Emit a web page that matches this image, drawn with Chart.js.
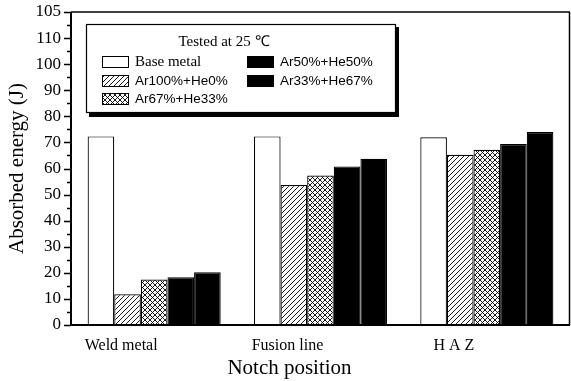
<!DOCTYPE html>
<html>
<head>
<meta charset="utf-8">
<script src="https://cdn.jsdelivr.net/npm/chart.js@4.4.3/dist/chart.umd.min.js"></script>
<style>
  html, body { margin: 0; padding: 0; background: #fff; }
  #wrap { width: 571px; height: 381px; }
</style>
</head>
<body>
<div id="wrap"><canvas id="c" width="571" height="381"></canvas></div>
<script>
const categories = ['Weld metal', 'Fusion line', 'H A Z'];
const seriesNames = ['Base metal', 'Ar100%+He0%', 'Ar67%+He33%', 'Ar50%+He50%', 'Ar33%+He67%'];
const baseMetal = [72.3, 72.3, 72.0];
const ar100he0 = [11.8, 53.7, 65.3];
const ar67he33 = [17.4, 57.3, 67.2];
const ar50he50 = [18.3, 60.8, 69.4];
const ar33he67 = [20.2, 63.7, 74.0];
const yTickLabels = ['0', '10', '20', '30', '40', '50', '60', '70', '80', '90', '100', '110', '105'];
const legendTitle = 'Tested at 25 \u2103';
const xTitle = 'Notch position';

const SERIF = '"Liberation Serif", "Times New Roman", serif';
const SANS = '"Liberation Sans", Arial, sans-serif';

function makePattern(cross) {
  const size = 5;
  const c = document.createElement('canvas');
  c.width = size;
  c.height = size;
  const g = c.getContext('2d');
  g.fillStyle = '#fff';
  g.fillRect(0, 0, size, size);
  g.strokeStyle = '#000';
  g.lineWidth = 0.9;
  g.beginPath();
  g.moveTo(-1, size + 1); g.lineTo(size + 1, -1);
  g.moveTo(-1, 1); g.lineTo(1, -1);
  g.moveTo(size - 1, size + 1); g.lineTo(size + 1, size - 1);
  if (cross) {
    g.moveTo(-1, -1); g.lineTo(size + 1, size + 1);
    g.moveTo(size - 1, -1); g.lineTo(size + 1, 1);
    g.moveTo(-1, size - 1); g.lineTo(1, size + 1);
  }
  g.stroke();
  return g.createPattern(c, 'repeat');
}

const fills = ['#ffffff', makePattern(false), makePattern(true), '#000000', '#000000'];
const seriesValues = [baseMetal, ar100he0, ar67he33, ar50he50, ar33he67];

const datasets = seriesNames.map((name, i) => ({
  label: name,
  data: seriesValues[i],
  backgroundColor: fills[i],
  borderColor: '#000',
  borderWidth: 1.2,
  borderSkipped: 'bottom',
  categoryPercentage: 0.8,
  barPercentage: 1.0,
}));

// axis lines, frame, y tick marks (long at labelled ticks, short in between) and x title
const framePlugin = {
  id: 'frame',
  afterDatasetsDraw(chart) {
    const { ctx, chartArea: a } = chart;
    const y = chart.scales.y;
    ctx.save();
    ctx.strokeStyle = '#000';
    ctx.lineWidth = 1.5;
    ctx.beginPath();
    ctx.moveTo(a.left, a.top); ctx.lineTo(a.right, a.top);
    ctx.moveTo(a.right - 0.5, a.top); ctx.lineTo(a.right - 0.5, a.bottom);
    ctx.stroke();
    ctx.lineWidth = 2;
    ctx.beginPath();
    ctx.moveTo(a.left, a.top); ctx.lineTo(a.left, a.bottom + 1);
    ctx.moveTo(a.left - 1, a.bottom); ctx.lineTo(a.right, a.bottom);
    ctx.stroke();
    ctx.lineWidth = 1.3;
    ctx.beginPath();
    y.ticks.forEach(t => {
      const py = Math.round(y.getPixelForValue(t.value)) + 0.5;
      const len = t.value % 10 === 0 ? 7 : 4;
      ctx.moveTo(a.left - len, py);
      ctx.lineTo(a.left, py);
    });
    ctx.stroke();

    ctx.fillStyle = '#000';
    ctx.font = '21px ' + SERIF;
    ctx.textAlign = 'center';
    ctx.textBaseline = 'middle';
    ctx.fillText(xTitle, (a.left + a.right) / 2 - 31, a.bottom + 43);
    ctx.restore();
  }
};

// boxed legend with shadow: three entries in the first column, two in the second
const legendBoxPlugin = {
  id: 'legendBox',
  afterDraw(chart) {
    const { ctx, chartArea: a } = chart;
    const x0 = a.left + 15, y0 = a.top + 12, w = 309, h = 88;
    ctx.save();
    ctx.fillStyle = '#000';
    ctx.fillRect(x0 + 3, y0 + h, w, 5);
    ctx.fillRect(x0 + w, y0 + 3, 4, h + 2);
    ctx.fillStyle = '#fff';
    ctx.fillRect(x0, y0, w, h);
    ctx.strokeStyle = '#000';
    ctx.lineWidth = 1.2;
    ctx.strokeRect(x0 + 0.5, y0 + 0.5, w, h);

    ctx.fillStyle = '#000';
    ctx.font = '15px ' + SERIF;
    ctx.textAlign = 'center';
    ctx.textBaseline = 'middle';
    ctx.fillText(legendTitle, x0 + 138, y0 + 18);

    const slots = [[16, 38], [16, 57], [16, 75], [161, 38], [161, 57]];
    chart.data.datasets.forEach((ds, i) => {
      const [sx, sy] = slots[i];
      const bx = x0 + sx, by = y0 + sy - 6;
      ctx.fillStyle = ds.backgroundColor;
      ctx.fillRect(bx, by, 27, 12);
      ctx.strokeStyle = '#000';
      ctx.lineWidth = 1;
      ctx.strokeRect(bx + 0.5, by + 0.5, 26, 11);
      ctx.fillStyle = '#000';
      ctx.textAlign = 'left';
      ctx.font = i === 0 ? '15px ' + SERIF : '13.5px ' + SANS;
      ctx.fillText(ds.label, bx + 33, y0 + sy);
    });
    ctx.restore();
  }
};

new Chart(document.getElementById('c'), {
  type: 'bar',
  data: { labels: categories, datasets },
  plugins: [framePlugin, legendBoxPlugin],
  options: {
    responsive: false,
    animation: false,
    layout: { padding: { top: 12, right: 1, left: 0, bottom: 0 } },
    plugins: { legend: { display: false }, tooltip: { enabled: false } },
    scales: {
      x: {
        grid: { display: false, drawTicks: false },
        border: { display: false },
        ticks: { color: '#000', padding: 11, labelOffset: -33, font: { family: SERIF, size: 16 } },
        afterFit(scale) {
          scale.height = 56;
          scale.paddingLeft = 0;
          scale.paddingRight = 0;
        },
      },
      y: {
        min: 0,
        max: 120,
        grid: { display: false, drawTicks: false },
        border: { display: false },
        ticks: {
          stepSize: 5,
          autoSkip: false,
          color: '#000',
          padding: 10,
          font: { family: SERIF, size: 17 },
          callback: v => (v % 10 === 0 ? yTickLabels[v / 10] : ''),
        },
        title: {
          display: true,
          text: 'Absorbed energy (J)',
          color: '#000',
          font: { family: SERIF, size: 21 },
          padding: { top: 5, bottom: 0 },
        },
        afterFit(scale) {
          scale.width = 71;
          scale.paddingTop = 0;
          scale.paddingBottom = 0;
        },
      },
    },
  },
});
</script>
</body>
</html>
